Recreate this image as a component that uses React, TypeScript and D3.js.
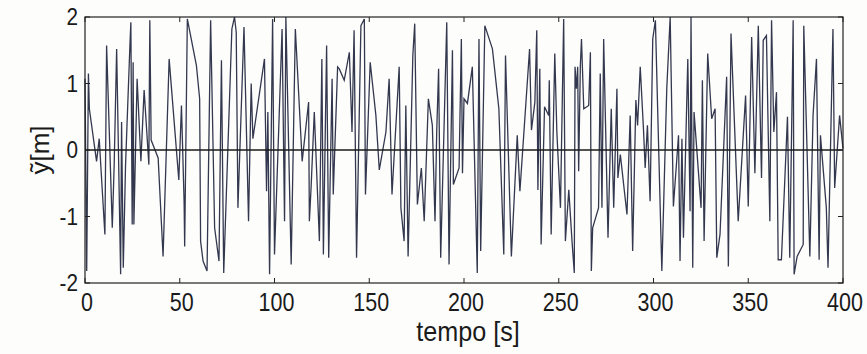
import React, { useEffect, useRef } from 'react';
import * as d3 from 'd3';

// campioni: tempo [s] e ampiezza [m]
const tempo = [
  0, 0.9, 1.8, 2.3, 6.1, 7.5, 10.5, 11.4, 14.4, 15.4, 16.7, 18.8, 19.3, 20.2, 21.4, 23.7, 24.2, 24.9, 25.4, 25.8,
  27.5, 29.5, 31.2, 33.7, 34.2, 34.9, 38.6, 41.2, 44.4, 49.5,
  50.9, 52.3, 52.6, 54, 58.8, 60.5, 61, 62.3, 64.4, 66.3, 68.4, 70.7, 72, 73.2, 77.5, 78.9, 79.8, 80.7, 83.9, 86.3,
  87.7, 88.6, 94.7, 95.8, 96.5, 97.4,
  99, 100, 104, 105.3, 106, 108.8, 111, 114.6, 118, 118.4, 119.3, 121, 123.7, 125, 125.8, 127.5, 128.6, 130.4, 131,
  133.3, 134.2, 136.8, 139.5, 140.9, 142, 143.3, 145.6, 147.4, 148,
  150.5, 153.5, 155.3, 158.8, 160.5, 162, 165.8, 166.7, 168.4, 169.3, 170.5, 173, 174, 175.4, 177.5, 179, 181.2,
  183.3, 184.7, 185.6, 186.6, 187.7, 190.9, 192.1, 193.9, 194.4, 197.4, 198.6, 199.2, 200,
  201.8, 204.4, 207, 207.9, 208.8, 211, 215, 218.4, 221, 221.9, 225, 228.1, 229.5, 234.6, 235.6, 237.4, 238.4, 239,
  240, 240.7, 242.5, 244.7, 245, 246, 247.9, 249,
  250.9, 252.6, 253.5, 255.3, 257, 258.2, 258.6, 259.3, 260, 260.5, 261.4, 262, 263.2, 265.8, 266.7, 267.2, 267.9,
  271, 271.9, 272.8, 273.7, 276, 277.7, 279, 280.7, 281.2, 282.5, 286, 287.7, 289, 290.7, 291.6, 293, 294.7, 295.6,
  296.8, 298.2, 299.6,
  301, 302.3, 304.4, 307, 308.8, 310.5, 313.2, 314, 315, 315.8, 318.1, 319.3, 319.8, 320.7, 321.4, 325.1, 325.8,
  326.7, 328.6, 330.7, 332.5, 333.4, 335.1, 338.6, 339.5, 340.9, 344.7, 348.6,
  350, 351.8, 353.5, 355.3, 357, 357.9, 359.6, 361.4, 362.3, 363.5, 364.9, 365.8, 367.5, 370.7, 371.9, 373.3, 373.7,
  374.2, 375.8, 379, 379.3, 382.5, 384.2, 386, 387.4, 388.1, 391.2, 392.1, 394.7, 395.6, 398.2, 400,
];

const ampiezza = [
  1.07, -1.82, 1.15, 0.62, -0.17, 0.17, -1.27, 1.57, -1.17, -0.22, 1.52, -1.87, 0.42, -1.77, -0.22, 1.57, 1.92, -1.12, 1.32, -1.12,
  1.07, -0.17, 0.9, -0.22, 1.95, 0.15, -0.12, -1.6, 1.37, -0.45,
  0.67, -0.78, -1.45, 1.97, 1.27, 0.77, -1.37, -1.67, -1.82, 1.95, -1.17, -1.67, 1.35, -1.85, 1.82, 2.0, 1.77, -0.87, 1.85, -1.07,
  1.0, 0.17, 1.37, -0.62, 0.57, -1.87,
  1.97, -1.57, 1.82, -1.07, 2.0, -1.72, 1.82, -0.17, 0.72, -1.07, -0.57, 0.57, -1.37, 1.37, -1.57, 1.57, -1.62, 1.07, -0.67,
  1.25, 1.22, 1.05, 1.47, 0.27, 1.8, -1.62, 1.87, 1.97, -0.67,
  1.32, 0.52, -0.3, 0.27, 1.07, -0.67, 1.25, -0.87, -1.37, 0.67, -1.6, 1.42, 1.9, -0.82, -0.27, -1.07, 0.77,
  0.37, -1.07, 0.27, 1.22, -1.62, 1.92, -1.72, 1.5, -0.52, -0.27, 1.67, -0.35, 0.77,
  0.7, 1.25, -1.85, 1.67, -1.52, 1.87, 1.52, 0.62, -1.57, 1.42, -1.6, 0.22, -0.62, 1.52, 0.3, 0.72, 1.8, -0.6,
  1.22, -1.42, 0.65, 0.52, 1.05, -1.27, 1.45, 0.27,
  -0.87, 1.97, -1.37, -0.6, -1.37, -1.85, 1.25, 0.92, 1.25, -0.32, 1.27, 1.67, 0.62, 0.67, 1.47, -1.82, -1.17,
  -0.87, 1.15, -0.87, 1.67, -1.32, 0.62, -0.87, 0.92, -0.42, -0.07, -0.97, 0.52, -1.52, 0.75, 0.37, 1.25, 0.32, -0.27,
  0.37, -0.77, 1.67,
  1.95, 0.5, -1.82, 0.92, 2.0, -0.85, 0.22, -1.67, 0.17, -1.32, 1.37, -0.92, 2.0, -1.77, 0.57, -0.87, 1.05,
  -1.37, 1.45, 0.47, 0.62, -1.62, -1.27, 1.1, -1.75, 1.75, -1.07, 0.82,
  -0.85, 1.7, -0.35, 1.87, -0.42, 1.65, 1.72, -1.07, 1.95, 0.27, 0.87, -1.65, -1.65, 0.5, -1.62, 1.1, 1.95,
  -1.87, -1.6, -1.42, 1.87, -1.6, 0.52, 1.37, -1.65, 0.22, -0.87, -1.77, 1.82, -0.57, 0.52, 0.02,
];

const xTicks = [0, 50, 100, 150, 200, 250, 300, 350, 400];
const yTicks = [-2, -1, 0, 1, 2];

const W = 867;
const H = 354;

const App: React.FC = () => {
  const svgRef = useRef<SVGSVGElement>(null);

  useEffect(() => {
    if (!svgRef.current) return;
    const svg = d3.select(svgRef.current);
    svg.selectAll('*').remove();

    const margin = { top: 17, right: 24, bottom: 71, left: 85 };
    const iw = W - margin.left - margin.right;
    const ih = H - margin.top - margin.bottom;

    svg.append('rect').attr('width', W).attr('height', H).attr('fill', '#fdfdfc');

    const g = svg.append('g').attr('transform', `translate(${margin.left},${margin.top})`);

    const x = d3.scaleLinear().domain([0, 400]).range([0, iw]);
    const y = d3.scaleLinear().domain([-2, 2]).range([ih, 0]);

    const font = "'Liberation Sans', Arial, sans-serif";

    // segnale
    const pts = tempo.map((t, i) => [t, ampiezza[i]] as [number, number]);
    const line = d3.line<[number, number]>().x(d => x(d[0])).y(d => y(d[1]));
    g.append('path')
      .datum(pts)
      .attr('d', line)
      .attr('fill', 'none')
      .attr('stroke', '#34384e')
      .attr('stroke-width', 1.3)
      .attr('stroke-linejoin', 'miter');

    // linea dello zero
    g.append('line')
      .attr('x1', 0).attr('x2', iw)
      .attr('y1', y(0)).attr('y2', y(0))
      .attr('stroke', '#1a1a1a')
      .attr('stroke-width', 1.3);

    // cornice
    g.append('rect')
      .attr('width', iw).attr('height', ih)
      .attr('fill', 'none')
      .attr('stroke', '#222')
      .attr('stroke-width', 1.2);

    const tl = 5;
    // tacche interne (stile MATLAB)
    const tk = g.append('g').attr('stroke', '#222').attr('stroke-width', 1);
    xTicks.forEach(t => {
      tk.append('line').attr('x1', x(t)).attr('x2', x(t)).attr('y1', ih).attr('y2', ih - tl);
      tk.append('line').attr('x1', x(t)).attr('x2', x(t)).attr('y1', 0).attr('y2', tl);
    });
    yTicks.forEach(t => {
      tk.append('line').attr('x1', 0).attr('x2', tl).attr('y1', y(t)).attr('y2', y(t));
      tk.append('line').attr('x1', iw).attr('x2', iw - tl).attr('y1', y(t)).attr('y2', y(t));
    });

    // etichette asse x (leggermente strette come nella scansione)
    g.append('g')
      .selectAll('text')
      .data(xTicks)
      .enter()
      .append('text')
      .attr('transform', d => `translate(${x(d) + 2},${ih + 28}) scale(0.86,1)`)
      .attr('text-anchor', 'middle')
      .style('font-family', font)
      .style('font-size', '25px')
      .style('fill', '#1a1a1a')
      .text(d => String(d));

    // etichette asse y
    g.append('g')
      .selectAll('text')
      .data(yTicks)
      .enter()
      .append('text')
      .attr('transform', d => `translate(-7,${y(d) + 8}) scale(0.9,1)`)
      .attr('text-anchor', 'end')
      .style('font-family', font)
      .style('font-size', '23px')
      .style('fill', '#1a1a1a')
      .text(d => String(d));

    // titoli assi
    g.append('text')
      .attr('transform', `translate(${iw / 2 + 4},${ih + 58}) scale(0.9,1)`)
      .attr('text-anchor', 'middle')
      .style('font-family', font)
      .style('font-size', '28px')
      .style('fill', '#1a1a1a')
      .text('tempo [s]');

    g.append('text')
      .attr('transform', `translate(${-36},${y(0)}) rotate(-90)`)
      .attr('text-anchor', 'middle')
      .style('font-family', font)
      .style('font-size', '26px')
      .style('fill', '#1a1a1a')
      .text('ỹ[m]');
  }, []);

  return (
    <div style={{ position: 'fixed', left: 0, top: 0 }}>
      <svg ref={svgRef} width={W} height={H} style={{ display: 'block' }}></svg>
    </div>
  );
};

export default App;
